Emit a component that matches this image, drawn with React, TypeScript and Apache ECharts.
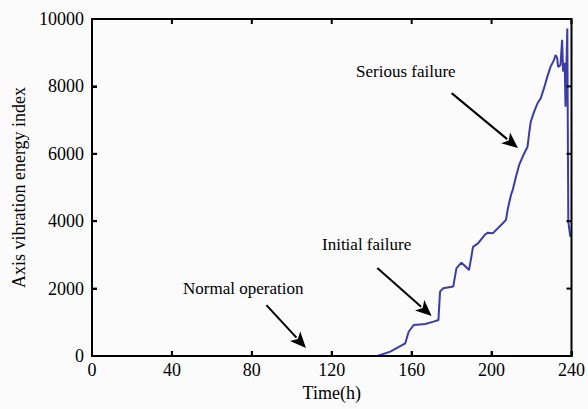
import React, { useEffect, useRef } from "react";
import * as echarts from "echarts";

const hours = [0, 142.8, 149.3, 152.7, 156.8, 158.5, 161, 166.8, 170.9, 173.4, 174.2, 175.8, 180.8, 182.4, 184.9, 186.6, 188.7, 189.9, 190.7, 193.2, 196.5, 198.1, 200.6, 205.6, 207.2, 208, 209.7, 210.6, 212.2, 213.8, 216.3, 218, 218.8, 219.6, 221.3, 223, 224.6, 226.2, 227.9, 229.5, 231.2, 232, 232.8, 233.3, 234.5, 235.3, 235.8, 236.6, 237, 237.9, 238.4, 239.4, 240];
const energy = [0, 0, 130, 240, 377, 720, 920, 950, 1020, 1070, 1910, 2010, 2060, 2600, 2770, 2680, 2550, 2950, 3240, 3340, 3590, 3660, 3640, 3940, 4040, 4330, 4780, 4930, 5320, 5670, 6010, 6210, 6610, 6950, 7250, 7500, 7650, 7940, 8290, 8580, 8780, 8930, 8850, 8580, 8630, 9380, 8440, 8700, 7400, 9720, 3990, 3540, 3600];
const xTicks = [0, 40, 80, 120, 160, 200, 240];
const yTicks = [0, 2000, 4000, 6000, 8000, 10000];

const annotations = [
  { text: "Serious failure", from: [180, 7800], to: [213.2, 6170] },
  { text: "Initial failure", from: [142.8, 2610], to: [170, 1190] },
  { text: "Normal operation", from: [87.3, 1510], to: [107.1, 240] },
];

export default function App() {
  const ref = useRef<HTMLDivElement>(null);
  useEffect(() => {
    if (!ref.current) return;
    const chart = echarts.init(ref.current, null, { renderer: "svg" });
    const font = "Liberation Serif";
    const xMin = xTicks[0];
    const xMax = xTicks[xTicks.length - 1];
    const yMin = yTicks[0];
    const yMax = yTicks[yTicks.length - 1];

    const renderFrame = (params: any, api: any) => {
      const bl = api.coord([xMin, yMin]);
      const tr = api.coord([xMax, yMax]);
      const L = 5;
      const children: any[] = [
        {
          type: "rect",
          shape: { x: bl[0], y: tr[1], width: tr[0] - bl[0], height: bl[1] - tr[1] },
          style: { fill: "none", stroke: "#000", lineWidth: 2 },
        },
      ];
      xTicks.forEach((t) => {
        const px = api.coord([t, yMin])[0];
        children.push({ type: "line", shape: { x1: px, y1: bl[1], x2: px, y2: bl[1] - L }, style: { stroke: "#000", lineWidth: 2 } });
        children.push({ type: "line", shape: { x1: px, y1: tr[1], x2: px, y2: tr[1] + L }, style: { stroke: "#000", lineWidth: 2 } });
      });
      yTicks.forEach((v) => {
        const py = api.coord([xMin, v])[1];
        children.push({ type: "line", shape: { x1: bl[0], y1: py, x2: bl[0] + L, y2: py }, style: { stroke: "#000", lineWidth: 2 } });
        children.push({ type: "line", shape: { x1: tr[0], y1: py, x2: tr[0] - L, y2: py }, style: { stroke: "#000", lineWidth: 2 } });
      });
      return { type: "group", children };
    };

    chart.setOption({
      animation: false,
      backgroundColor: "#fbfbfb",
      grid: { left: 92, right: 12, top: 19, bottom: 53 },
      xAxis: {
        type: "value",
        min: xMin,
        max: xMax,
        interval: 40,
        axisLine: { show: true, onZero: false, lineStyle: { color: "#000", width: 2 } },
        axisTick: { show: true, inside: true, length: 5, lineStyle: { color: "#000", width: 2 } },
        splitLine: { show: false },
        name: "Time(h)",
        nameLocation: "middle",
        nameGap: 24,
        nameTextStyle: { fontFamily: font, fontSize: 18, color: "#000" },
        axisLabel: { fontFamily: font, fontSize: 18, color: "#000", margin: 5, formatter: (v: number) => String(v) },
      },
      yAxis: {
        type: "value",
        min: yMin,
        max: yMax,
        interval: 2000,
        axisLine: { show: true, onZero: false, lineStyle: { color: "#000", width: 2 } },
        axisTick: { show: true, inside: true, length: 5, lineStyle: { color: "#000", width: 2 } },
        splitLine: { show: false },
        name: "Axis vibration energy index",
        nameLocation: "middle",
        nameGap: 64,
        nameTextStyle: { fontFamily: font, fontSize: 18, color: "#000" },
        axisLabel: { fontFamily: font, fontSize: 18, color: "#000", margin: 8, formatter: (v: number) => String(v) },
      },
      series: [
        {
          type: "line",
          data: hours.map((h, i) => [h, energy[i]]),
          symbol: "none",
          clip: false,
          z: 3,
          lineStyle: { color: "#3c3ca8", width: 2 },
        },
        {
          type: "custom",
          data: [[xMin, yMin]],
          renderItem: renderFrame,
          clip: false,
          silent: true,
          z: 10,
        },
      ],
    });

    const arrows: any[] = [];
    annotations.forEach((a) => {
      const p = chart.convertToPixel({ xAxisIndex: 0, yAxisIndex: 0 }, a.from) as number[];
      const q = chart.convertToPixel({ xAxisIndex: 0, yAxisIndex: 0 }, a.to) as number[];
      const dx = q[0] - p[0];
      const dy = q[1] - p[1];
      const len = Math.sqrt(dx * dx + dy * dy);
      const ux = dx / len;
      const uy = dy / len;
      const headLen = 16;
      const halfW = 7;
      const bx = q[0] - ux * headLen;
      const by = q[1] - uy * headLen;
      arrows.push({
        type: "line",
        silent: true,
        z: 20,
        shape: { x1: p[0], y1: p[1], x2: bx + ux * 2, y2: by + uy * 2 },
        style: { stroke: "#000", lineWidth: 2 },
      });
      arrows.push({
        type: "polygon",
        silent: true,
        z: 20,
        shape: {
          points: [
            [q[0], q[1]],
            [bx - uy * halfW, by + ux * halfW],
            [bx + ux * 4, by + uy * 4],
            [bx + uy * halfW, by - ux * halfW],
          ],
        },
        style: { fill: "#000" },
      });
    });

    chart.setOption({
      graphic: [
        ...arrows,
        { type: "text", left: 356, top: 63, z: 20, style: { text: annotations[0].text, fontFamily: font, fontSize: 17, fill: "#000" } },
        { type: "text", left: 322, top: 236, z: 20, style: { text: annotations[1].text, fontFamily: font, fontSize: 17, fill: "#000" } },
        { type: "text", left: 183, top: 280, z: 20, style: { text: annotations[2].text, fontFamily: font, fontSize: 17, fill: "#000" } },
      ],
    });
    return () => chart.dispose();
  }, []);
  return <div ref={ref} style={{ width: 588, height: 409, position: "absolute", left: 0, top: 0 }} />;
}
